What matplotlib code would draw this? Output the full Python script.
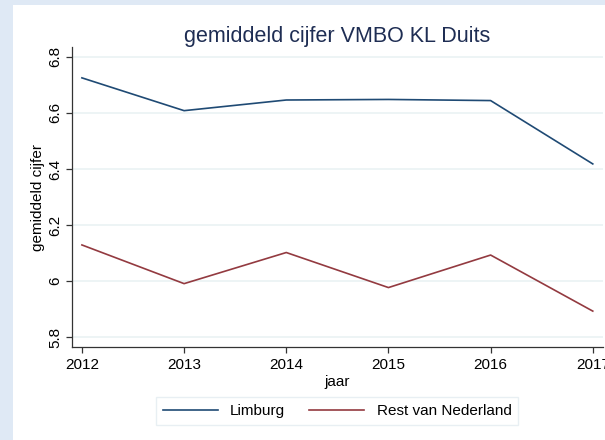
import matplotlib.pyplot as plt
from matplotlib.patches import Rectangle

years = [2012, 2013, 2014, 2015, 2016, 2017]
limburg = [6.725, 6.608, 6.646, 6.648, 6.644, 6.418]
rest_nl = [6.129, 5.991, 6.102, 5.977, 6.093, 5.893]
y_ticks = [5.8, 6.0, 6.2, 6.4, 6.6, 6.8]
y_tick_labels = ['5.8', '6', '6.2', '6.4', '6.6', '6.8']

navy = '#1f4a74'
maroon = '#933a40'
grid_col = '#eaf2f3'

plt.rcParams['font.family'] = ['Liberation Sans', 'DejaVu Sans']

fig = plt.figure(figsize=(6.05, 4.4), dpi=100)
fig.patch.set_facecolor('#dfe9f5')
# white graph region (Stata style), left and top strips stay blue
fig.patches.append(Rectangle((12.7 / 605, 0), 1, 1 - 5 / 440, transform=fig.transFigure,
                             facecolor='white', edgecolor='none', zorder=-10))

ax = fig.add_axes([71.7 / 605, (440 - 347) / 440, (603 - 71.7) / 605, (347 - 47.3) / 440])
ax.set_facecolor('white')

ax.plot(years, limburg, color=navy, lw=1.2, label='Limburg')
ax.plot(years, rest_nl, color=maroon, lw=1.2, label='Rest van Nederland')

ax.set_xlim(2011.9, 2017.1)
ax.set_ylim(5.765, 6.834)
ax.set_xticks(years)
ax.set_yticks(y_ticks)
ax.set_yticklabels(y_tick_labels, rotation=90, va='center')
ax.grid(axis='y', color=grid_col, lw=1.2)
ax.set_axisbelow(True)

for side in ['top', 'right']:
    ax.spines[side].set_visible(False)
for side in ['left', 'bottom']:
    ax.spines[side].set_color('#333333')
    ax.spines[side].set_linewidth(0.9)

ax.tick_params(axis='both', direction='out', length=4, width=0.9, color='#333333',
               labelsize=11, labelcolor='black')
ax.tick_params(axis='x', pad=4)
ax.tick_params(axis='y', pad=3)

ax.set_title('gemiddeld cijfer VMBO KL Duits', fontsize=15.5, color='#1e2d53', pad=3)
ax.set_xlabel('jaar', fontsize=11, labelpad=2)
ax.set_ylabel('gemiddeld cijfer', fontsize=11, va='center')
ax.yaxis.set_label_coords((38 - 71.7) / 531.3, 0.5)

leg = ax.legend(loc='center', bbox_to_anchor=((337 - 71.7) / 531.3, (347 - 411) / 300),
                ncol=2, frameon=True, fontsize=11, handlelength=3.6, handletextpad=0.8,
                columnspacing=1.6, borderpad=0.45, fancybox=False)
leg.get_frame().set_edgecolor('#e3ecf0')
leg.get_frame().set_linewidth(1.0)

fig.savefig('out.png', dpi=100, facecolor=fig.get_facecolor())
